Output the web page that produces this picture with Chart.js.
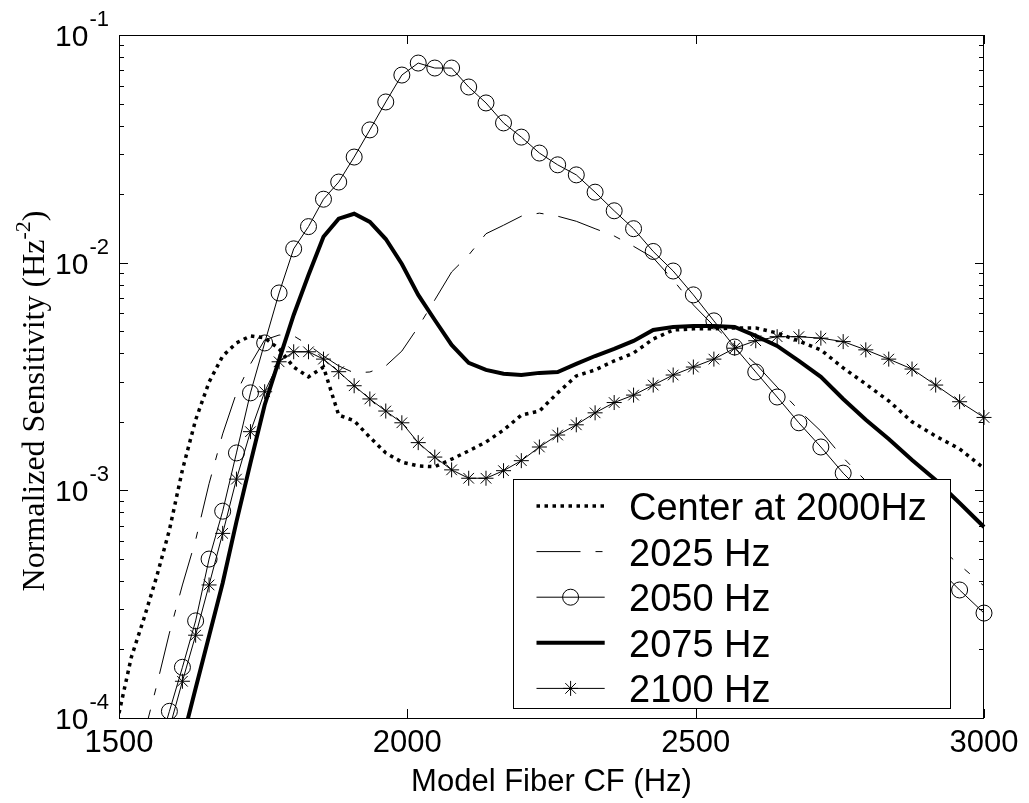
<!DOCTYPE html>
<html>
<head>
<meta charset="utf-8">
<script src="https://cdn.jsdelivr.net/npm/chart.js"></script>
<style>
  html, body { margin: 0; padding: 0; background: #fff; }
  canvas { display: block; }
</style>
</head>
<body>
<canvas id="myChart" width="1029" height="803"></canvas>
<script>
// model fiber CFs (Hz), same grid for all curves
const cf = [1500, 1521.4, 1543.1, 1565.1, 1587.4, 1610.0, 1632.9, 1656.2, 1679.8, 1703.7,
  1728.0, 1752.6, 1777.6, 1802.9, 1828.6, 1854.6, 1881.0, 1907.8, 1935.0, 1962.6,
  1990.5, 2018.9, 2047.6, 2076.8, 2106.4, 2136.4, 2166.8, 2197.7, 2229.0, 2260.7,
  2293.0, 2325.6, 2358.7, 2392.3, 2426.4, 2461.0, 2496.0, 2531.6, 2567.6, 2604.2,
  2641.3, 2678.9, 2717.1, 2755.8, 2795.0, 2834.8, 2875.2, 2916.2, 2957.7, 3000];

const center2000 = [1.05e-4, 1.85e-4, 2.73e-4, 4.16e-4, 6.69e-4, 1.23e-3, 2.04e-3, 2.99e-3, 3.89e-3, 4.44e-3,
  4.77e-3, 4.67e-3, 4.18e-3, 3.48e-3, 3.15e-3, 3.48e-3, 2.14e-3, 2.02e-3, 1.71e-3, 1.46e-3,
  1.33e-3, 1.28e-3, 1.27e-3, 1.37e-3, 1.49e-3, 1.63e-3, 1.84e-3, 2.14e-3, 2.23e-3, 2.68e-3,
  3.18e-3, 3.38e-3, 3.70e-3, 4.01e-3, 4.62e-3, 5.06e-3, 5.12e-3, 5.12e-3, 5.17e-3, 5.17e-3,
  4.91e-3, 4.53e-3, 4.14e-3, 3.45e-3, 2.93e-3, 2.47e-3, 2.00e-3, 1.73e-3, 1.52e-3, 1.25e-3];

const hz2025 = [3.2e-5, 5.1e-5, 8.4e-5, 1.38e-4, 2.36e-4, 3.84e-4, 6.05e-4, 1.07e-3, 1.77e-3, 2.68e-3,
  3.59e-3, 4.58e-3, 4.81e-3, 4.77e-3, 4.35e-3, 3.89e-3, 3.52e-3, 3.28e-3, 3.31e-3, 3.52e-3,
  4.09e-3, 5.22e-3, 6.86e-3, 9.10e-3, 1.08e-2, 1.34e-2, 1.46e-2, 1.60e-2, 1.65e-2, 1.60e-2,
  1.52e-2, 1.41e-2, 1.31e-2, 1.18e-2, 1.05e-2, 8.39e-3, 6.52e-3, 5.27e-3, 4.35e-3, 3.59e-3,
  2.84e-3, 2.25e-3, 1.82e-3, 1.39e-3, 1.10e-3, 8.89e-4, 7.18e-4, 5.81e-4, 4.70e-4, 3.80e-4];

const hz2050 = [1.76e-5, 2.77e-5, 4.4e-5, 6.9e-5, 1.07e-4, 1.67e-4, 2.67e-4, 4.99e-4, 8.1e-4, 1.46e-3,
  2.68e-3, 4.44e-3, 7.36e-3, 1.15e-2, 1.44e-2, 1.9e-2, 2.26e-2, 2.91e-2, 3.83e-2, 5.08e-2,
  6.67e-2, 7.53e-2, 7.16e-2, 7.16e-2, 5.91e-2, 5.03e-2, 4.11e-2, 3.56e-2, 3.03e-2, 2.69e-2,
  2.43e-2, 2.04e-2, 1.69e-2, 1.41e-2, 1.12e-2, 9.19e-3, 7.22e-3, 5.55e-3, 4.26e-3, 3.31e-3,
  2.57e-3, 1.98e-3, 1.55e-3, 1.19e-3, 9.44e-4, 7.41e-4, 5.87e-4, 4.65e-4, 3.65e-4, 2.89e-4];

const hz2075 = [6.4e-6, 1.06e-5, 1.74e-5, 2.9e-5, 4.8e-5, 8.0e-5, 1.35e-4, 2.29e-4, 3.92e-4, 7.29e-4,
  1.32e-3, 2.37e-3, 3.74e-3, 5.89e-3, 8.83e-3, 1.30e-2, 1.56e-2, 1.64e-2, 1.51e-2, 1.27e-2,
  9.87e-3, 7.22e-3, 5.60e-3, 4.35e-3, 3.63e-3, 3.38e-3, 3.25e-3, 3.21e-3, 3.28e-3, 3.31e-3,
  3.59e-3, 3.89e-3, 4.18e-3, 4.53e-3, 5.06e-3, 5.22e-3, 5.27e-3, 5.27e-3, 5.22e-3, 4.77e-3,
  4.31e-3, 3.70e-3, 3.15e-3, 2.52e-3, 2.04e-3, 1.68e-3, 1.36e-3, 1.11e-3, 8.80e-4, 6.90e-4];

const hz2100 = [1.35e-5, 2.17e-5, 3.5e-5, 5.6e-5, 9.0e-5, 1.45e-4, 2.31e-4, 3.84e-4, 6.47e-4, 1.12e-3,
  1.81e-3, 2.71e-3, 3.67e-3, 4.06e-3, 4.06e-3, 3.77e-3, 3.32e-3, 2.88e-3, 2.52e-3, 2.23e-3,
  1.98e-3, 1.62e-3, 1.40e-3, 1.23e-3, 1.13e-3, 1.13e-3, 1.22e-3, 1.35e-3, 1.55e-3, 1.75e-3,
  1.94e-3, 2.19e-3, 2.43e-3, 2.62e-3, 2.90e-3, 3.21e-3, 3.48e-3, 3.77e-3, 4.21e-3, 4.54e-3,
  4.73e-3, 4.73e-3, 4.66e-3, 4.50e-3, 4.14e-3, 3.77e-3, 3.41e-3, 2.90e-3, 2.45e-3, 2.09e-3];

const seriesLabels = ['Center at 2000Hz', '2025 Hz', '2050 Hz', '2075 Hz', '2100 Hz'];

const xTicks = [1500, 2000, 2500, 3000];
const yTicks = [1e-4, 1e-3, 1e-2, 1e-1];
const yTickExps = ['-4', '-3', '-2', '-1'];

function pts(ys) {
  return cf.map((x, i) => ({ x: x, y: ys[i] }));
}

const clipArea = { left: 0, top: 0, right: 10, bottom: 0 };

// frame, inner ticks, y labels with exponents, y title and legend box
const decorations = {
  id: 'decorations',
  afterDraw(chart) {
    const c = chart.ctx;
    const a = chart.chartArea;
    const xs = chart.scales.x;
    const ys = chart.scales.y;
    c.save();
    c.strokeStyle = '#000';
    c.fillStyle = '#000';
    c.lineWidth = 1;

    c.strokeRect(a.left + 0.5, a.top + 0.5, a.right - a.left - 1, a.bottom - a.top);

    c.beginPath();
    xTicks.forEach(v => {
      const px = Math.round(xs.getPixelForValue(v)) + 0.5;
      c.moveTo(px, a.bottom); c.lineTo(px, a.bottom - 9);
      c.moveTo(px, a.top); c.lineTo(px, a.top + 9);
    });
    yTicks.forEach((v, i) => {
      const py = Math.round(ys.getPixelForValue(v)) + 0.5;
      c.moveTo(a.left, py); c.lineTo(a.left + 9, py);
      c.moveTo(a.right, py); c.lineTo(a.right - 9, py);
      if (i < yTicks.length - 1) {
        for (let m = 2; m <= 9; m++) {
          const pm = Math.round(ys.getPixelForValue(v * m)) + 0.5;
          c.moveTo(a.left, pm); c.lineTo(a.left + 5, pm);
          c.moveTo(a.right, pm); c.lineTo(a.right - 5, pm);
        }
      }
    });
    c.stroke();

    // y tick labels: 10 with superscript exponent
    c.textBaseline = 'alphabetic';
    c.textAlign = 'right';
    yTicks.forEach((v, i) => {
      const py = ys.getPixelForValue(v);
      c.font = '22px "Liberation Sans", Arial, sans-serif';
      const supX = a.left - 10;
      c.fillText(yTickExps[i], supX, py - 9);
      const w = c.measureText(yTickExps[i]).width;
      c.font = '30px "Liberation Sans", Arial, sans-serif';
      c.fillText('10', supX - w - 1, py + 11);
    });

    // y axis title (rotated, serif)
    c.save();
    c.translate(44, 401);
    c.rotate(-Math.PI / 2);
    c.textAlign = 'left';
    const mainFont = '32px "Liberation Serif", "Times New Roman", serif';
    const supFont = '22px "Liberation Serif", "Times New Roman", serif';
    const t1 = 'Normalized Sensitivity (Hz', t2 = '-2', t3 = ')';
    c.font = mainFont;
    const w1 = c.measureText(t1).width, w3 = c.measureText(t3).width;
    c.font = supFont;
    const w2 = c.measureText(t2).width;
    let tx = -(w1 + w2 + w3) / 2;
    c.font = mainFont;
    c.fillText(t1, tx, 0);
    tx += w1;
    c.font = supFont;
    c.fillText(t2, tx, -14);
    tx += w2;
    c.font = mainFont;
    c.fillText(t3, tx, 0);
    c.restore();

    // legend box
    const bx = 513.5, by = 479.5, bw = 437, bh = 229;
    c.fillStyle = '#fff';
    c.fillRect(bx, by, bw, bh);
    c.strokeStyle = '#000';
    c.lineWidth = 1;
    c.strokeRect(bx, by, bw, bh);
    chart.data.datasets.forEach((ds, i) => {
      const ry = 506 + i * 45.6;
      c.save();
      c.strokeStyle = '#000';
      c.lineWidth = ds.borderWidth;
      c.setLineDash(ds.borderDash || []);
      c.beginPath();
      c.moveTo(536.5, ry);
      c.lineTo(604.7, ry);
      c.stroke();
      c.setLineDash([]);
      if (ds.pointRadius > 0) {
        c.lineWidth = 1;
        c.fillStyle = 'rgba(0,0,0,0)';
        Chart.helpers.drawPoint(c, {
          pointStyle: ds.pointStyle, radius: ds.pointRadius, rotation: 0, borderWidth: 1
        }, 570.6, ry);
      }
      c.restore();
      c.fillStyle = '#000';
      c.textAlign = 'left';
      c.font = '38px "Liberation Sans", Arial, sans-serif';
      c.fillText(ds.label, 629, ry + 14);
    });
    c.restore();
  }
};

const ctx = document.getElementById('myChart');

new Chart(ctx, {
  type: 'line',
  data: {
    datasets: [{
      label: seriesLabels[0],
      data: pts(center2000),
      borderColor: '#000',
      borderWidth: 3.5,
      borderDash: [3.5, 4.5],
      pointRadius: 0,
      clip: clipArea
    },
    {
      label: seriesLabels[1],
      data: pts(hz2025),
      borderColor: '#000',
      borderWidth: 1,
      borderDash: [44, 15, 7, 15],
      pointRadius: 0,
      clip: clipArea
    },
    {
      label: seriesLabels[2],
      data: pts(hz2050),
      borderColor: '#000',
      borderWidth: 1,
      pointStyle: 'circle',
      pointRadius: 8,
      pointBorderWidth: 1,
      pointBorderColor: '#000',
      pointBackgroundColor: 'rgba(0,0,0,0)',
      clip: clipArea
    },
    {
      label: seriesLabels[3],
      data: pts(hz2075),
      borderColor: '#000',
      borderWidth: 4,
      pointRadius: 0,
      clip: clipArea
    },
    {
      label: seriesLabels[4],
      data: pts(hz2100),
      borderColor: '#000',
      borderWidth: 1,
      pointStyle: 'star',
      pointRadius: 7.5,
      pointBorderWidth: 1,
      pointBorderColor: '#000',
      pointBackgroundColor: 'rgba(0,0,0,0)',
      clip: clipArea
    }]
  },
  options: {
    responsive: false,
    animation: false,
    events: [],
    devicePixelRatio: 1,
    layout: { padding: { top: 35, right: 45, left: 0, bottom: 0 } },
    elements: { line: { tension: 0 } },
    plugins: { legend: { display: false }, tooltip: { enabled: false } },
    scales: {
      x: {
        type: 'linear',
        min: 1500,
        max: 3000,
        afterBuildTicks: s => { s.ticks = xTicks.map(v => ({ value: v })); },
        afterFit: s => { s.height = 85; },
        grid: { display: false, drawTicks: false },
        border: { display: false },
        ticks: {
          autoSkip: false,
          maxRotation: 0,
          padding: 7,
          color: '#000',
          font: { family: '"Liberation Sans", Arial, sans-serif', size: 31 },
          callback: v => String(v)
        },
        title: {
          display: true,
          text: 'Model Fiber CF (Hz)',
          color: '#000',
          padding: { top: 0, bottom: 2 },
          font: { family: '"Liberation Sans", Arial, sans-serif', size: 31 }
        }
      },
      y: {
        type: 'logarithmic',
        min: 1e-4,
        max: 1e-1,
        afterFit: s => { s.width = 119; },
        grid: { display: false, drawTicks: false },
        border: { display: false },
        ticks: { display: false }
      }
    }
  },
  plugins: [decorations]
});
</script>
</body>
</html>
